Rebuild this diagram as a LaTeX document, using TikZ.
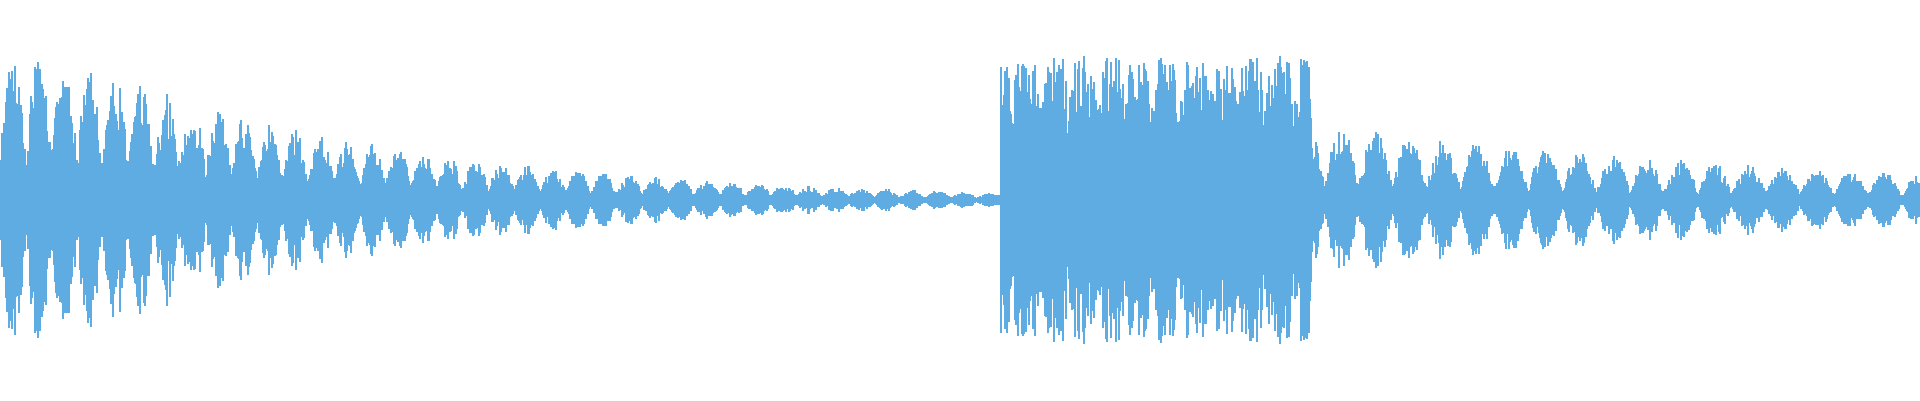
\documentclass[tikz,border=0pt]{standalone}
\usetikzlibrary{calc}
\definecolor{waveblue}{RGB}{94,172,226}
\tikzset{
    sample/.style={waveblue, line width=0.45pt},
    baseline/.style={waveblue, line width=0.4pt}
}
\begin{document}
\begin{tikzpicture}
\useasboundingbox (0,0) rectangle (19.2,4);
\pgfmathsetseed{4711}

% centre line of the signal
\coordinate (start) at (0,2);
\coordinate (stop) at (19.2,2);
\draw[baseline] (start) -- (stop);

% samples, one stroke per column
\foreach \i in {0,...,1919}{
    \pgfmathsetmacro{\u}{\i/1920}
    \pgfmathsetmacro{\envA}{min(1,1.25*exp(-6*\u))*(0.3+0.7*abs(sin(\i*7)))}
    \pgfmathsetmacro{\envB}{min(1,0.7+0.5*abs(sin(\i*6.4)))}
    \pgfmathsetmacro{\envC}{0.55*exp(-3.5*(\u-0.68))*(0.2+0.8*abs(sin(\i*5.3)))}
    \pgfmathsetmacro{\env}{\u<0.521 ? \envA : (\u<0.683 ? \envB : \envC)}
    \pgfmathsetmacro{\amp}{1.45*\env*(0.55+0.45*rnd)}
    \draw[sample] (\i/100,2-\amp) -- (\i/100,2+\amp);
}
\end{tikzpicture}
\end{document}
